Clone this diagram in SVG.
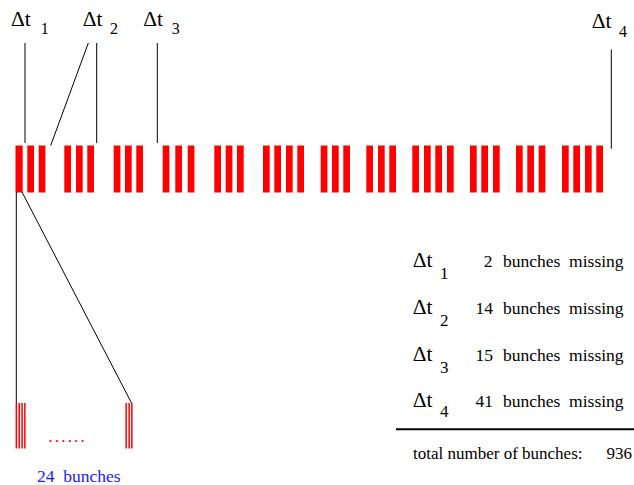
<svg xmlns="http://www.w3.org/2000/svg" width="634" height="485" viewBox="0 0 634 485">
<style>
.bar{fill:#ff0000}
.thin{fill:#ff0000}
.ln{stroke:#000;stroke-width:1;fill:none}
text{font-family:'Liberation Serif','Times New Roman',Tinos,'DejaVu Serif',serif;fill:#000}
.big{font-size:21.5px}
.sub{font-size:16px}
.tsub{font-size:17px}
.txt{font-size:17.5px}
.tot{font-size:17px}
.blue{font-size:17.5px;fill:#1a1aff}
.dots{font-size:17px;fill:#ff0000;letter-spacing:2.2px}
</style>
<defs>
<rect id="b" class="bar" width="6.7" height="47" y="145.5"/>
</defs>
<g id="bunch-train">
<rect class="bar" x="15.5" y="145.5" width="7.2" height="47"/>
<use href="#b" x="27.3"/><use href="#b" x="38.7"/>
<use href="#b" x="64.3"/><use href="#b" x="76"/><use href="#b" x="87.3"/>
<use href="#b" x="113.7"/><use href="#b" x="125"/><use href="#b" x="136.3"/>
<use href="#b" x="162.7"/><use href="#b" x="175.3"/><use href="#b" x="187.7"/>
<use href="#b" x="214.3"/><use href="#b" x="225.7"/><use href="#b" x="237"/>
<use href="#b" x="263"/><use href="#b" x="274.3"/><use href="#b" x="286"/><use href="#b" x="297.3"/>
<use href="#b" x="320.7"/><use href="#b" x="332"/><use href="#b" x="343.3"/>
<use href="#b" x="366.3"/><use href="#b" x="378"/><use href="#b" x="389.3"/>
<use href="#b" x="412.3"/><use href="#b" x="424"/><use href="#b" x="435.3"/><use href="#b" x="447"/>
<use href="#b" x="470"/><use href="#b" x="481.3"/><use href="#b" x="493"/>
<use href="#b" x="516"/><use href="#b" x="527.3"/><use href="#b" x="538.7"/>
<use href="#b" x="562"/><use href="#b" x="573.3"/><use href="#b" x="585"/><use href="#b" x="596.3"/>
</g>
<g id="connectors">
<line class="ln" x1="25" y1="43" x2="25" y2="143"/>
<line class="ln" x1="88.3" y1="43" x2="50.7" y2="145.5"/>
<line class="ln" x1="96.7" y1="43" x2="96.7" y2="143"/>
<line class="ln" x1="157.3" y1="43" x2="157.3" y2="143"/>
<line class="ln" x1="611.3" y1="49.5" x2="611.3" y2="148.7"/>
<line class="ln" x1="16.3" y1="192" x2="16.3" y2="403"/>
<line class="ln" x1="22" y1="192" x2="131.5" y2="403"/>
</g>
<g id="label-dt1"><text class="big" x="11" y="26">Δt</text><text class="sub" x="40.7" y="34">1</text></g>
<g id="label-dt2"><text class="big" x="82.7" y="26">Δt</text><text class="sub" x="110" y="34">2</text></g>
<g id="label-dt3"><text class="big" x="143.3" y="26">Δt</text><text class="sub" x="171.7" y="34">3</text></g>
<g id="label-dt4"><text class="big" x="591.7" y="28">Δt</text><text class="sub" x="619" y="36.7">4</text></g>
<g id="zoom-bunches">
<rect class="thin" x="15.6" y="403" width="1.5" height="45.5"/>
<rect class="thin" x="18.5" y="403" width="1.5" height="45.5"/>
<rect class="thin" x="21.3" y="403" width="1.5" height="45.5"/>
<rect class="thin" x="24.1" y="403" width="1.5" height="45.5"/>
<rect class="thin" x="125.4" y="403" width="1.5" height="45.5"/>
<rect class="thin" x="128.4" y="403" width="1.5" height="45.5"/>
<rect class="thin" x="131.1" y="403" width="1.5" height="45.5"/>
<text class="dots" x="48.3" y="442">......</text>
<text class="blue" x="37" y="482" xml:space="preserve">24  bunches</text>
</g>
<g id="table">
<text class="big" x="412.7" y="266.7">Δt</text><text class="tsub" x="440" y="279">1</text>
<text class="txt" x="492.5" y="266.7" text-anchor="end">2</text>
<text class="txt" x="503" y="266.7" xml:space="preserve">bunches  missing</text>
<text class="big" x="412.7" y="314">Δt</text><text class="tsub" x="440" y="326">2</text>
<text class="txt" x="493" y="314" text-anchor="end">14</text>
<text class="txt" x="503" y="314" xml:space="preserve">bunches  missing</text>
<text class="big" x="412.7" y="360.7">Δt</text><text class="tsub" x="440" y="372.5">3</text>
<text class="txt" x="493" y="360.7" text-anchor="end">15</text>
<text class="txt" x="503" y="360.7" xml:space="preserve">bunches  missing</text>
<text class="big" x="412.7" y="406.7">Δt</text><text class="tsub" x="440" y="417">4</text>
<text class="txt" x="493" y="406.7" text-anchor="end">41</text>
<text class="txt" x="503" y="406.7" xml:space="preserve">bunches  missing</text>
<line x1="396" y1="429.3" x2="634" y2="429.3" stroke="#000" stroke-width="2"/>
<text class="tot" x="413" y="459">total number of bunches:</text>
<text class="tot" x="632" y="459" text-anchor="end">936</text>
</g>
</svg>
